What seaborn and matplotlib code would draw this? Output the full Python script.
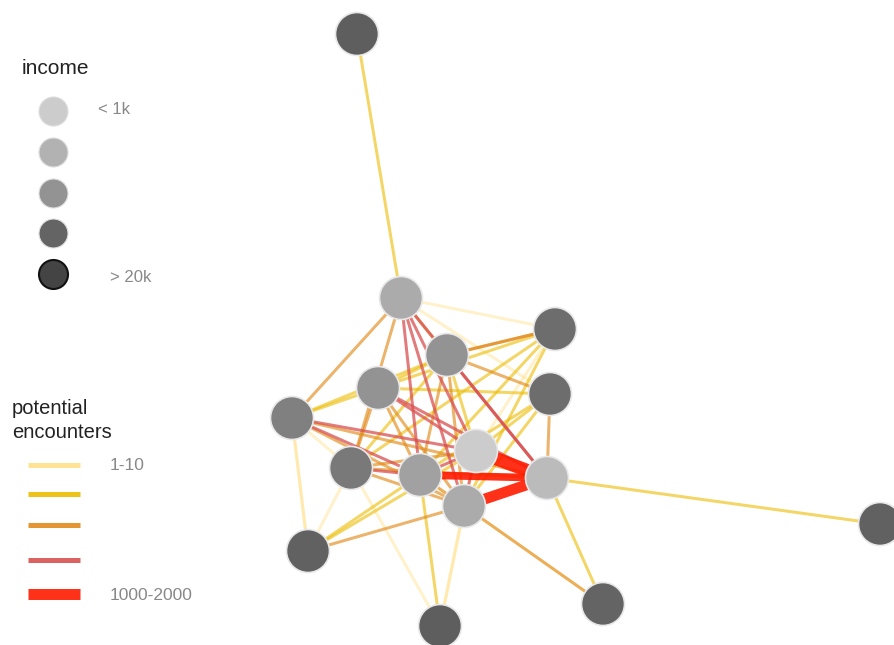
import numpy as np
import pandas as pd
import seaborn as sns
import matplotlib
matplotlib.use("Agg")
import matplotlib.pyplot as plt
from matplotlib.colors import LinearSegmentedColormap

sns.set_theme(style="white")
plt.rcParams['font.family'] = ['Liberation Sans', 'DejaVu Sans']

# ---- data ----
node_id = list(range(16))
node_x = [357, 401, 555, 447, 378, 550, 292, 476, 351, 420, 547, 464, 308, 603, 440, 880]
node_y = [34, 298, 329, 355, 388, 394, 418, 451, 468, 475, 478, 506, 551, 604, 626, 524]
node_income = [14, 2.5, 10, 5, 5, 10, 7, 0.8, 8, 3.5, 1.5, 2.5, 13, 12, 14, 13]  # thousands

edge_src = [0, 1, 1, 1, 1, 1, 1, 1, 1, 1,
            3, 3, 3, 3, 3, 3, 3, 3, 3,
            4, 4, 4, 4, 4, 4, 4, 4,
            6, 6, 6, 6, 6, 6,
            8, 8, 8, 8, 8,
            12, 12, 12, 12, 12,
            14, 14, 14, 14,
            13, 13, 13,
            10, 10, 2, 2, 2, 2, 5, 5, 5,
            7, 9, 11, 7, 7, 9]
edge_dst = [1, 6, 8, 3, 9, 11, 7, 10, 2, 5,
            2, 5, 10, 9, 11, 7, 8, 4, 6,
            6, 5, 2, 7, 10, 9, 11, 8,
            7, 9, 10, 11, 8, 12,
            9, 10, 11, 7, 2,
            9, 7, 11, 8, 6,
            8, 9, 11, 7,
            9, 11, 10,
            15, 5, 3, 7, 11, 9, 9, 7, 11,
            10, 10, 10, 9, 11, 11]
edge_encounters = [40, 200, 250, 200, 700, 700, 700, 700, 5, 5,
                   150, 150, 700, 300, 400, 40, 40, 40, 40,
                   60, 40, 30, 700, 600, 300, 300, 250,
                   600, 700, 300, 300, 5, 5,
                   700, 250, 300, 250, 30,
                   40, 30, 150, 5, 5,
                   5, 40, 5, 5,
                   5, 250, 40,
                   40, 250, 250, 5, 40, 30, 30, 30, 30,
                   1900, 1200, 1600, 700, 700, 300]

income_labels = ["< 1k", "", "", "", "> 20k"]
income_levels = [0.8, 2, 5, 12, 25]
enc_labels = ["1-10", "", "", "", "1000-2000"]
enc_bins = [0, 10, 100, 500, 1000, 2000]

# ---- styles ----
enc_colors = ["#ffe08a", "#ecbc00", "#e38a1a", "#d95050", "#ff1a00"]
enc_alpha = [0.45, 0.6, 0.65, 0.75, 0.9]
gray_cmap = LinearSegmentedColormap.from_list("g", ["#cccccc", "#b4b4b4", "#999999", "#6a6a6a", "#444444"])

def inc_norm(v):
    return np.clip((np.log10(v) - np.log10(0.8)) / (np.log10(25) - np.log10(0.8)), 0, 1)

nodes = pd.DataFrame({"id": node_id, "x": node_x, "y": node_y, "income": node_income})
edges = pd.DataFrame({"src": edge_src, "dst": edge_dst, "enc": edge_encounters})
edges["level"] = np.digitize(edges["enc"], enc_bins[1:-1], right=True)
edges = edges.sort_values("enc")

fig = plt.figure(figsize=(8.95, 6.45), dpi=100)
ax = fig.add_axes([0, 0, 1, 1])

px = 0.72  # points per pixel
for _, e in edges.iterrows():
    s, d, lvl = int(e.src), int(e.dst), int(e.level)
    if lvl == 4:
        w = 6 + (e.enc - 1000) / 1000 * 8
    else:
        w = 3
    ax.plot([node_x[s], node_x[d]], [node_y[s], node_y[d]],
            color=enc_colors[lvl], alpha=enc_alpha[lvl], lw=w * px,
            solid_capstyle="butt", zorder=1)

node_colors = [gray_cmap(inc_norm(v)) for v in node_income]
sns.scatterplot(data=nodes, x="x", y="y", hue="id", palette=node_colors,
                s=(43 * px) ** 2, edgecolor="#e8e8e8", linewidth=1.2,
                legend=False, ax=ax, zorder=3)
ax.set_xlim(0, 895)
ax.set_ylim(645, 0)
ax.axis("off")

# ---- legends ----
ax.text(22, 68, "income", fontsize=15, color="#222222", va="center", ha="left")
for i, (lv, lab) in enumerate(zip(income_levels, income_labels)):
    yy = 111 + i * 40.8
    ec = "#111111" if i == 4 else "#dddddd"
    ax.scatter([53], [yy], s=(29 * px) ** 2, color=gray_cmap(inc_norm(lv)),
               edgecolor=ec, linewidth=1.5 if i == 4 else 0.8, zorder=3)
    if lab:
        ax.text(98 if i == 0 else 110, yy - 2 if i == 0 else yy + 3, lab,
                fontsize=12, color="#888888", va="center", ha="left")

ax.text(12, 408, "potential", fontsize=14.5, color="#222222", va="center", ha="left")
ax.text(12, 433, "encounters", fontsize=14.5, color="#222222", va="center", ha="left")
leg_y = [465, 494, 525, 560, 594]
leg_w = [5, 5, 5, 5, 11]
for i in range(5):
    ax.plot([28, 80], [leg_y[i], leg_y[i]], color=enc_colors[i], lw=leg_w[i] * px,
            solid_capstyle="butt", alpha=0.9)
    if enc_labels[i]:
        ax.text(110, leg_y[i] + 1, enc_labels[i], fontsize=12.5, color="#888888",
                va="center", ha="left")

fig.savefig("out.png", dpi=100)
